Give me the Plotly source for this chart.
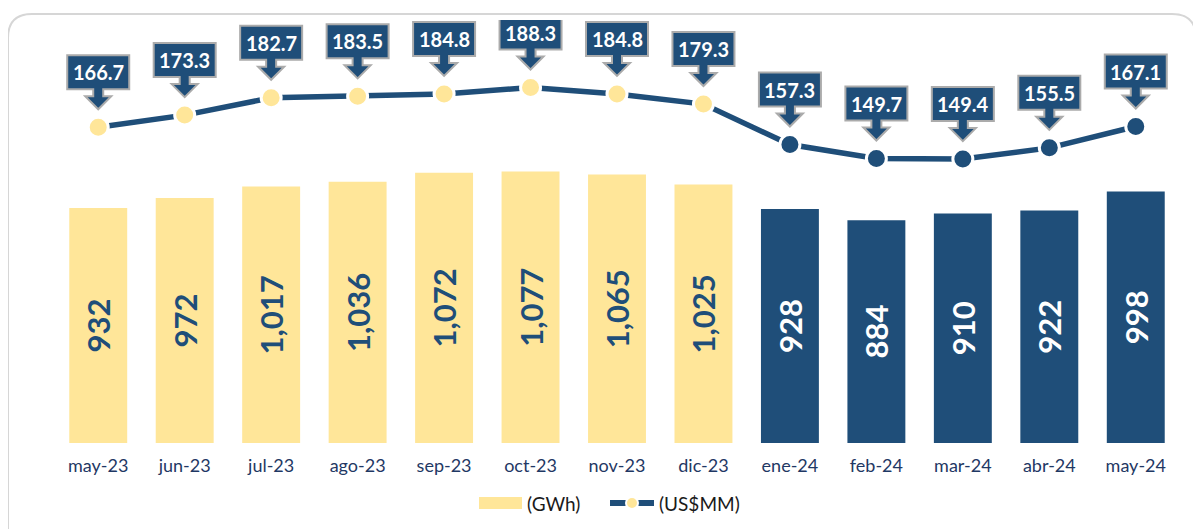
import plotly.graph_objects as go

categories = ["may-23", "jun-23", "jul-23", "ago-23", "sep-23", "oct-23", "nov-23",
              "dic-23", "ene-24", "feb-24", "mar-24", "abr-24", "may-24"]
gwh = [932, 972, 1017, 1036, 1072, 1077, 1065, 1025, 928, 884, 910, 922, 998]
usd_mm = [166.7, 173.3, 182.7, 183.5, 184.8, 188.3, 184.8, 179.3, 157.3, 149.7, 149.4, 155.5, 167.1]
series_names = ["(GWh)", "(US$MM)"]
year_of = [c[-2:] for c in categories]

NAVY = "#1F4E79"
YELLOW = "#FFE699"
FONT = "Lato"

bar_colors = [YELLOW if y == "23" else NAVY for y in year_of]
bar_text_colors = [NAVY if y == "23" else "white" for y in year_of]

fig = go.Figure()
fig.add_trace(go.Bar(
    x=categories, y=gwh, name=series_names[0],
    marker=dict(color=bar_colors, line=dict(width=0)),
    text=[f"{v:,}" for v in gwh], textposition="inside", insidetextanchor="middle",
    textangle=-90, constraintext="none",
    textfont=dict(family=FONT, size=31, color=bar_text_colors, weight="bold"),
    yaxis="y", showlegend=False,
))
fig.add_trace(go.Scatter(
    x=categories, y=usd_mm, name=series_names[1], mode="lines+markers",
    line=dict(color=NAVY, width=5.5),
    marker=dict(size=20, color=bar_colors, line=dict(color="white", width=3)),
    yaxis="y2", showlegend=False,
))

# Layout geometry. The page body has an 8px margin, so the figure starts at page (8, 8).
OFF = 8
W, H = 1201 - OFF, 529 - OFF
ml, mr, mt, mb = 55 - OFF, 22, 20 - OFF, 86
pw, ph = W - ml - mr, H - mt - mb

def px2paper(px, py):
    """page pixel -> paper fraction"""
    return (px - OFF - ml) / pw, (H - mb - (py - OFF)) / ph

def P(px, py):
    a, b = px2paper(px, py)
    return f"{a:.5f},{b:.5f}"

shapes = []
# rounded frame
x0, y0 = 8, 14
x1, y1 = 1196, 560
r = 24
path = (f"M {P(x0, y1)} L {P(x0, y0 + r)} Q {P(x0, y0)} {P(x0 + r, y0)} "
        f"L {P(x1 - r, y0)} Q {P(x1, y0)} {P(x1, y0 + r)} L {P(x1, y1)}")
shapes.append(dict(type="path", xref="paper", yref="paper", path=path,
                   line=dict(color="#D6D6D6", width=2), layer="below"))

callout = ("M -31,72 L 31,72 L 31,38 L 5,38 L 5,31 L 13,31 L 0,18 "
           "L -13,31 L -5,31 L -5,38 L -31,38 Z")
annotations = []
for i, v in enumerate(usd_mm):
    shapes.append(dict(type="path", xref="x", yref="y2", xsizemode="pixel", ysizemode="pixel",
                       xanchor=i, yanchor=v, path=callout, fillcolor=NAVY,
                       line=dict(color="#ABABAB", width=2), layer="above"))
    annotations.append(dict(x=i, y=v, xref="x", yref="y2", text=f"{v:.1f}", showarrow=False,
                            yshift=55, font=dict(family=FONT, size=20, color="white", weight="bold")))

# custom legend
ly = 503
gx0, gy0 = px2paper(479, ly - 6)
gx1, gy1 = px2paper(522, ly + 6)
shapes.append(dict(type="rect", xref="paper", yref="paper", x0=gx0, x1=gx1, y0=gy1, y1=gy0,
                   fillcolor=YELLOW, line=dict(width=0)))
tx, ty = px2paper(525, ly)
annotations.append(dict(x=tx, y=ty, xref="paper", yref="paper", text=series_names[0],
                        showarrow=False, xanchor="left", yanchor="middle",
                        font=dict(family=FONT, size=19, color="#1A1A1A")))
lx0, lyp = px2paper(610, ly)
lx1, _ = px2paper(654, ly)
shapes.append(dict(type="line", xref="paper", yref="paper", x0=lx0, x1=lx1, y0=lyp, y1=lyp,
                   line=dict(color=NAVY, width=6)))
cx, _ = px2paper(632, ly)
shapes.append(dict(type="circle", xref="paper", yref="paper", xsizemode="pixel", ysizemode="pixel",
                   xanchor=cx, yanchor=lyp, x0=-6, x1=6, y0=-6, y1=6,
                   fillcolor=YELLOW, line=dict(color="white", width=2)))
tx2, _ = px2paper(657, ly)
annotations.append(dict(x=tx2, y=ty, xref="paper", yref="paper", text=series_names[1],
                        showarrow=False, xanchor="left", yanchor="middle",
                        font=dict(family=FONT, size=19, color="#1A1A1A")))

fig.update_layout(
    width=W, height=H,
    margin=dict(l=ml, r=mr, t=mt, b=mb, autoexpand=False),
    paper_bgcolor="white", plot_bgcolor="rgba(0,0,0,0)",
    bargap=0.33,
    showlegend=False,
    xaxis=dict(range=[-0.5, len(categories) - 0.5], showgrid=False, showline=False,
               zeroline=False, ticks="", ticklabelstandoff=10,
               tickfont=dict(family=FONT, size=18, color="#1F3864")),
    yaxis=dict(range=[0, ph / 0.2521], visible=False, showgrid=False),
    yaxis2=dict(range=[-4.9, -4.9 + ph / 1.84], overlaying="y", side="right",
                visible=False, showgrid=False),
    shapes=shapes, annotations=annotations,
)
fig.write_html("out.html")
